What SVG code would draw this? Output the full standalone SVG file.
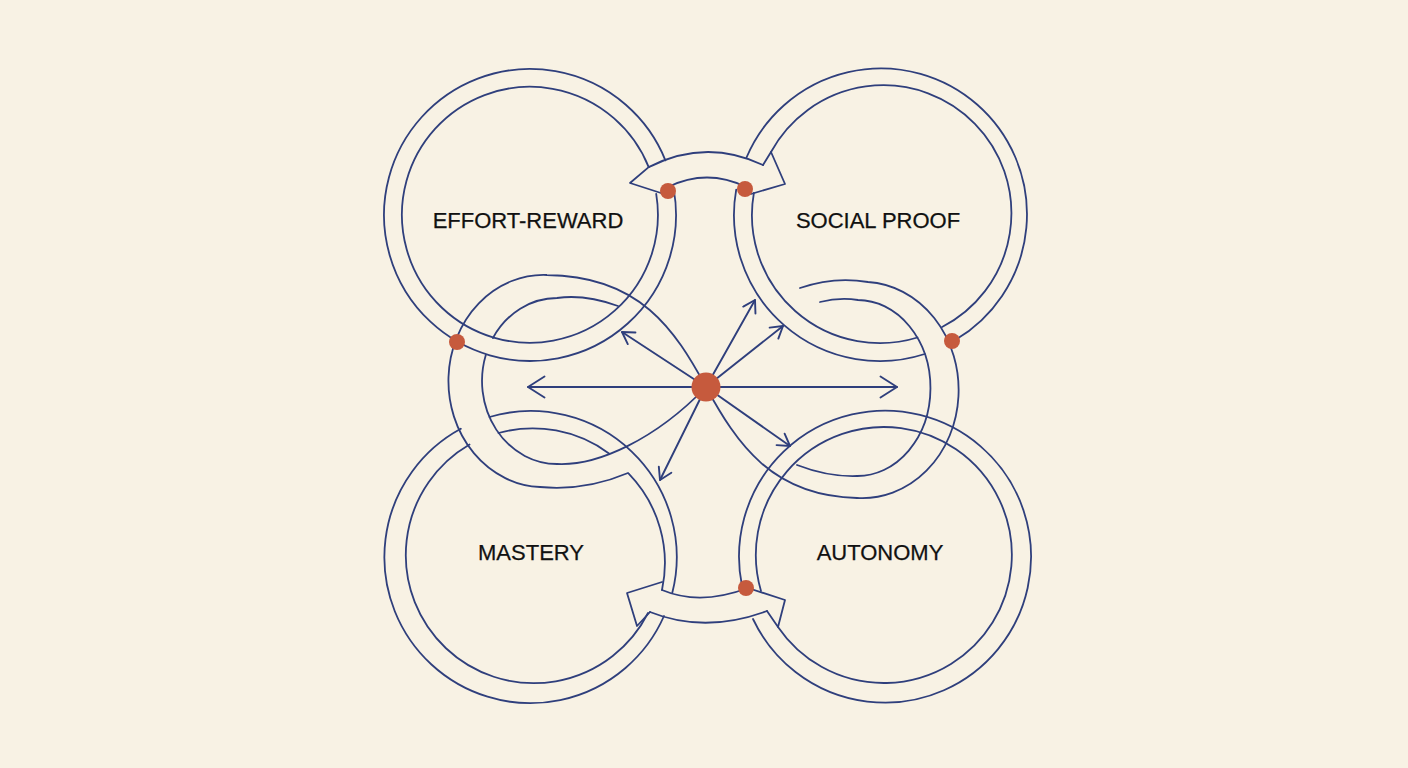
<svg xmlns="http://www.w3.org/2000/svg" width="1408" height="768" viewBox="0 0 1408 768">
  <defs>
    <style>
      .ln { fill: none; stroke: #2f3f7c; stroke-width: 1.8; stroke-linejoin: round; stroke-linecap: round; }
      .ar { fill: none; stroke: #2f3f7c; stroke-width: 1.9; stroke-linecap: round; }
      .dot { fill: #c65a3d; }
      .lbl { font-family: "Liberation Sans", Arial, sans-serif; font-size: 22px; fill: #111111; stroke: #111111; stroke-width: 0.25; text-anchor: middle; }
    </style>
    <marker id="ah" markerWidth="18" markerHeight="18" refX="13" refY="8" orient="auto" markerUnits="userSpaceOnUse">
      <path d="M1.5,1 L13,8 L1.5,15" fill="none" stroke="#2f3f7c" stroke-width="1.9" stroke-linecap="round" stroke-linejoin="round"/>
    </marker>
    <marker id="ahL" markerWidth="24" markerHeight="26" refX="18" refY="12" orient="auto" markerUnits="userSpaceOnUse">
      <path d="M1.5,1.5 L18,12 L1.5,22.5" fill="none" stroke="#2f3f7c" stroke-width="1.9" stroke-linecap="round" stroke-linejoin="round"/>
    </marker>
  </defs>
  <rect x="0" y="0" width="1408" height="768" fill="#f8f2e4"/>

  <g id="node-effort-reward">
    <path class="ln" d="M 673.8 189.6 A 146 146 0 1 1 665.4 160.3"/>
    <path class="ln" d="M 656.2 193.9 A 128 128 0 1 1 648.7 167.1"/>
    <text class="lbl" x="528" y="228">EFFORT-REWARD</text>
  </g>

  <g id="node-social-proof">
    <path class="ln" d="M 746.5 157.5 A 146 146 0 1 1 955.2 340.1"/>
    <path class="ln" d="M 924.8 354 A 146 146 0 0 1 736.2 189.6"/>
    <path class="ln" d="M 771 152 A 128 128 0 1 1 942.1 327"/>
    <path class="ln" d="M 917.5 337.5 A 128 128 0 0 1 753.9 192.8"/>
    <text class="lbl" x="878" y="228">SOCIAL PROOF</text>
  </g>

  <g id="node-mastery">
    <path class="ln" d="M 489.5 417 A 146 146 0 0 1 672.3 592.8"/>
    <path class="ln" d="M 664 616 A 146 146 0 1 1 460.8 428.8"/>
    <path class="ln" d="M 498.5 433 A 128 128 0 0 1 609 453.5"/>
    <path class="ln" d="M 628.7 473.7 A 128 128 0 0 1 662 590"/>
    <path class="ln" d="M 648 613 A 128 128 0 1 1 469.5 444.5"/>
    <text class="lbl" x="531" y="560">MASTERY</text>
  </g>

  <g id="node-autonomy">
    <path class="ln" d="M 742 586 A 146 146 0 1 1 753 619"/>
    <path class="ln" d="M 761 591 A 128 128 0 1 1 778 627"/>
    <text class="lbl" x="880" y="560">AUTONOMY</text>
  </g>

  <g id="connectors">
    <path class="ln" d="M 648.7 167.1 Q 706 138 763 165"/>
    <path class="ln" d="M 648.7 167.1 L 630 183 L 664 194"/>
    <path class="ln" d="M 668 187 Q 707 168 746 187"/>
    <path class="ln" d="M 763 165 L 771 152 L 785 184 L 751 194"/>
    <path class="ln" d="M 662 590 Q 700 606 748 588"/>
    <path class="ln" d="M 662 582 L 627 593 L 637 626 L 650 612"/>
    <path class="ln" d="M 650 612 Q 705 634 767 611"/>
    <path class="ln" d="M 748 588 L 785 600 L 778 627 L 767 611"/>
    <path class="ln" d="M 706 387 C 675 330 640 276 547 275 A 95 106 0 0 0 540 487 C 572 490 602 484 628 473"/>
    <path class="ln" d="M 618 306 Q 585 294 557 298 A 75 83 0 0 0 492.9 338"/>
    <path class="ln" d="M 485.8 355 A 75 83 0 0 0 557 464 C 597 466 655 440 706 387"/>
    <path class="ln" d="M 706 387 C 737 444 772 496 857 498 A 96 108 0 0 0 868 282 C 845 278 820 281 800 288"/>
    <path class="ln" d="M 797 465 Q 828 477 857 476 A 73 88 0 0 0 858 300 C 845 298 832 299 820 302"/>
    <path class="ar" d="M 706 387 L 528 387" marker-end="url(#ahL)"/>
    <path class="ar" d="M 706 387 L 897 387" marker-end="url(#ahL)"/>
    <path class="ar" d="M 706 387 L 622 332" marker-end="url(#ah)"/>
    <path class="ar" d="M 706 387 L 755 300" marker-end="url(#ah)"/>
    <path class="ar" d="M 706 387 L 783 326" marker-end="url(#ah)"/>
    <path class="ar" d="M 706 387 L 790 446" marker-end="url(#ah)"/>
    <path class="ar" d="M 706 387 L 660 480" marker-end="url(#ah)"/>
  </g>

  <g id="junctions">
    <circle class="dot" cx="668" cy="191" r="8"/>
    <circle class="dot" cx="745" cy="189" r="8"/>
    <circle class="dot" cx="457" cy="342" r="8"/>
    <circle class="dot" cx="952" cy="341" r="8"/>
    <circle class="dot" cx="746" cy="588" r="8"/>
  </g>
  <g id="node-hub">
    <circle class="dot" cx="706" cy="387" r="14.5"/>
  </g>
</svg>
